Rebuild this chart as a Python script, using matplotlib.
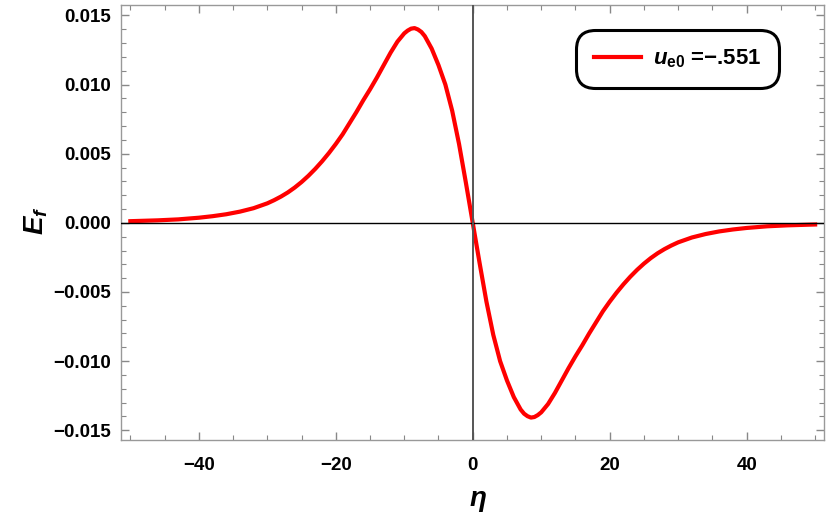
import matplotlib
matplotlib.use("Agg")
import matplotlib.pyplot as plt
from matplotlib.ticker import MultipleLocator, FuncFormatter

plt.rcParams['font.family'] = ['Liberation Sans', 'DejaVu Sans']
plt.rcParams['mathtext.fontset'] = 'custom'
plt.rcParams['mathtext.rm'] = 'Liberation Sans:bold'
plt.rcParams['mathtext.it'] = 'Liberation Sans:italic:bold'
plt.rcParams['mathtext.bf'] = 'Liberation Sans:bold'

# values
eta = [-50, -46, -43, -40, -38, -36, -34, -32, -30, -29, -28, -27, -26, -25, -24,
       -23, -22, -21, -20, -19, -18, -17, -16, -15, -14, -13, -12, -11, -10, -9.5,
       -9, -8.5, -8, -7.5, -7, -6, -5, -4, -3, -2, -1, 0,
       1, 2, 3, 4, 5, 6, 7, 7.5, 8, 8.5, 9, 9.5, 10, 11, 12, 13, 14, 15, 16, 17,
       18, 19, 20, 21, 22, 23, 24, 25, 26, 27, 28, 29, 30, 32, 34, 36, 38, 40,
       43, 46, 50]
ef = [0.00012, 0.00018, 0.00025, 0.00037, 0.00048, 0.00062, 0.00081, 0.00106,
      0.00141, 0.00164, 0.0019, 0.0022, 0.00255, 0.00295, 0.0034,
      0.0039, 0.00445, 0.00505, 0.0057, 0.0064, 0.0072, 0.0080, 0.00885, 0.00965,
      0.0105, 0.0114, 0.0123, 0.0131, 0.0137, 0.0139,
      0.01404, 0.01408, 0.01398, 0.0138, 0.0135, 0.0126, 0.0114, 0.0100, 0.0081,
      0.0057, 0.0029, 0.0,
      -0.0029, -0.0057, -0.0081, -0.0100, -0.0114, -0.0126, -0.0135, -0.0138,
      -0.01398, -0.01408, -0.01404, -0.0139, -0.0137, -0.0131, -0.0123, -0.0114,
      -0.0105, -0.00965, -0.00885, -0.0080,
      -0.0072, -0.0064, -0.0057, -0.00505, -0.00445, -0.0039, -0.0034, -0.00295,
      -0.00255, -0.0022, -0.0019, -0.00164, -0.00141, -0.00106, -0.00081,
      -0.00062, -0.00048, -0.00037, -0.00025, -0.00018, -0.00012]
label = r"$u_{\mathrm{e0}}$ =−.551"

fig = plt.figure(figsize=(8.3, 5.21), dpi=100)
ax = fig.add_axes([0.1455, 0.1555, 0.8473, 0.8349])

ax.axhline(0, color='black', lw=1.0, zorder=3)
ax.axvline(0, color='#555555', lw=1.4, zorder=3)
ax.plot(eta, ef, color='#ff0000', lw=3.0, label=label, zorder=2,
        solid_joinstyle='round')

ax.set_xlim(-51.4, 51.3)
ax.set_ylim(-0.0157, 0.01575)

ax.xaxis.set_major_locator(MultipleLocator(20))
ax.xaxis.set_minor_locator(MultipleLocator(5))
ax.yaxis.set_major_locator(MultipleLocator(0.005))
ax.yaxis.set_minor_locator(MultipleLocator(0.001))
ax.xaxis.set_major_formatter(FuncFormatter(lambda v, p: f"{v:.0f}".replace('-', '−')))
ax.yaxis.set_major_formatter(FuncFormatter(lambda v, p: f"{v:.3f}".replace('-', '−')))

ax.tick_params(which='both', direction='in', top=True, right=True, color='#888888')
ax.tick_params(which='major', length=6, width=1, labelsize=13.5)
ax.tick_params(axis='y', which='major', pad=7)
ax.tick_params(axis='x', which='major', pad=12)
ax.tick_params(which='minor', length=3.5, width=0.8)
for lab in ax.get_xticklabels() + ax.get_yticklabels():
    lab.set_fontweight('bold')
for s in ax.spines.values():
    s.set_color('#999999')
    s.set_linewidth(1.0)

ax.set_xlabel(r"$\eta$", fontsize=20)
ax.set_ylabel(r"$E_f$", fontsize=20)
ax.xaxis.set_label_coords(0.508, -0.11)
ax.yaxis.set_label_coords(-0.10, 0.505)

leg = ax.legend(loc='upper right', bbox_to_anchor=(0.936, 0.9425), fontsize=16,
                frameon=True, fancybox=True, handlelength=2.1, handletextpad=0.55,
                borderpad=0.8, borderaxespad=0)
fr = leg.get_frame()
fr.set_edgecolor('black')
fr.set_linewidth(2.2)
fr.set_alpha(1)
fr.set_boxstyle('round,pad=0.0,rounding_size=0.85')
for t in leg.get_texts():
    t.set_fontweight('bold')

fig.savefig("out.png", dpi=100)
